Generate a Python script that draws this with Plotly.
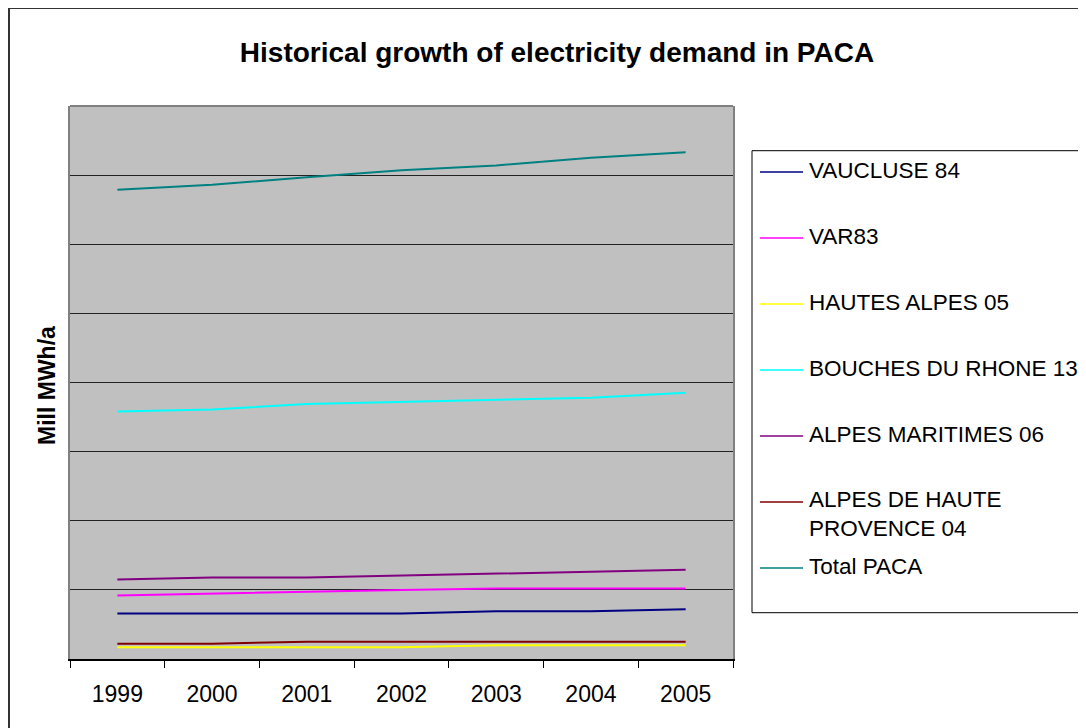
import plotly.graph_objects as go

years = ["1999", "2000", "2001", "2002", "2003", "2004", "2005"]

series_names = [
    "VAUCLUSE 84",
    "VAR83",
    "HAUTES ALPES 05",
    "BOUCHES DU RHONE 13",
    "ALPES MARITIMES 06",
    "ALPES DE HAUTE<br>PROVENCE 04",
    "Total PACA",
]

vaucluse = [0.66, 0.66, 0.66, 0.66, 0.69, 0.69, 0.72]
var83 = [0.92, 0.95, 0.98, 1.00, 1.02, 1.02, 1.02]
hautes_alpes = [0.17, 0.17, 0.17, 0.17, 0.20, 0.20, 0.20]
bouches_du_rhone = [3.58, 3.61, 3.69, 3.72, 3.76, 3.78, 3.85]
alpes_maritimes = [1.15, 1.18, 1.18, 1.21, 1.23, 1.26, 1.29]
alpes_haute_provence = [0.22, 0.22, 0.25, 0.25, 0.25, 0.25, 0.25]
total_paca = [6.79, 6.86, 6.97, 7.07, 7.14, 7.25, 7.33]

series_values = [vaucluse, var83, hautes_alpes, bouches_du_rhone,
                 alpes_maritimes, alpes_haute_provence, total_paca]
colors = ["#000080", "#FF00FF", "#FFFF00", "#00FFFF", "#800080", "#800000", "#008080"]

FONT = "Arial, Liberation Sans, sans-serif"

# page offset (body margin) and plot area in screenshot pixels
OFF = 8
L, R, T, B = 70, 733, 106, 659
W, H = 1086 - OFF, 728 - OFF


def px(xp):
    return (xp - L) / (R - L)


def py(yp):
    return (B - yp) / (B - T)


fig = go.Figure()
for name, vals, col in zip(series_names, series_values, colors):
    fig.add_trace(go.Scatter(x=years, y=vals, mode="lines", name=name.replace("<br>", " "),
                             line=dict(color=col, width=2), showlegend=False))

shapes = []
annotations = []

# outer chart frame
shapes.append(dict(type="rect", xref="paper", yref="paper",
                   x0=px(9), x1=px(1200), y0=py(800), y1=py(8),
                   line=dict(color="#333333", width=2), fillcolor="rgba(0,0,0,0)", layer="below"))
# top border of plot area
shapes.append(dict(type="line", xref="paper", yref="paper", x0=0, x1=1, y0=1, y1=1,
                   line=dict(color="#808080", width=2)))
# legend box
shapes.append(dict(type="rect", xref="paper", yref="paper",
                   x0=px(752), x1=px(1200), y0=py(612.7), y1=py(150.7),
                   line=dict(color="#000000", width=1), fillcolor="rgba(0,0,0,0)"))

line_y = [172, 238, 304, 370, 436, 502, 568]
for name, col, ly in zip(series_names, colors, line_y):
    shapes.append(dict(type="line", xref="paper", yref="paper",
                       x0=px(760), x1=px(803), y0=py(ly), y1=py(ly),
                       line=dict(color=col, width=1.5)))
    if "<br>" in name:
        annotations.append(dict(xref="paper", yref="paper", x=px(807), y=py(ly - 17),
                                xanchor="left", yanchor="top", align="left", text=name,
                                showarrow=False, font=dict(family=FONT, size=22.5, color="black")))
    else:
        annotations.append(dict(xref="paper", yref="paper", x=px(807), y=py(ly - 2),
                                xanchor="left", yanchor="middle", text=name,
                                showarrow=False, font=dict(family=FONT, size=22.5, color="black")))

# y axis title
annotations.append(dict(xref="paper", yref="paper", x=px(47), y=py(386), text="<b>Mill MWh/a</b>",
                        textangle=-90, showarrow=False, xanchor="center", yanchor="middle",
                        font=dict(family=FONT, size=23, color="black")))

fig.update_layout(
    width=W, height=H,
    margin=dict(l=L - OFF, r=W - (R - OFF), t=T - OFF, b=H - (B - OFF), autoexpand=False),
    paper_bgcolor="white",
    plot_bgcolor="#C0C0C0",
    title=dict(text="<b>Historical growth of electricity demand in PACA</b>",
               xref="container", yref="container", x=(557 - OFF) / W, y=1 - (52 - OFF) / H,
               xanchor="center", yanchor="middle",
               font=dict(family=FONT, size=28, color="black")),
    shapes=shapes,
    annotations=annotations,
    showlegend=False,
    font=dict(family=FONT, color="black"),
)

fig.update_xaxes(type="category", categoryorder="array", categoryarray=years,
                 range=[-0.5, len(years) - 0.5],
                 tickson="boundaries", ticks="outside", ticklen=7, tickwidth=1, tickcolor="black",
                 showline=True, linecolor="black", linewidth=1.5, showgrid=False,
                 ticklabelstandoff=14,
                 tickfont=dict(family=FONT, size=23, color="black"))
fig.update_yaxes(range=[0, 8], dtick=1, tick0=0, showticklabels=False, ticks="",
                 showgrid=True, gridcolor="#222222", gridwidth=1, zeroline=False,
                 showline=True, mirror=True, linecolor="#808080", linewidth=2)

fig.write_html("out.html")
